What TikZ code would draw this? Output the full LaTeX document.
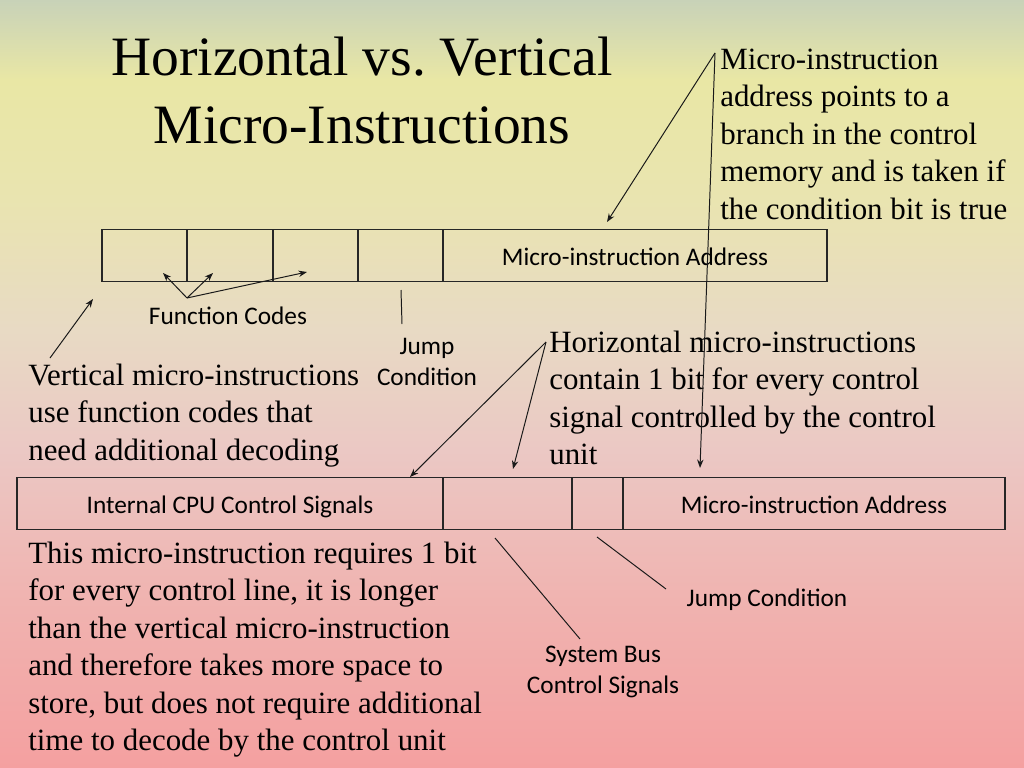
\documentclass[tikz,border=0pt]{standalone}
\usepackage{fontspec}
\setmainfont{Liberation Serif}
\newfontfamily\calibri{Carlito}
\usetikzlibrary{arrows.meta}
\frenchspacing

\definecolor{bgA}{RGB}{200,210,184}
\definecolor{bgB}{RGB}{233,231,165}
\definecolor{bgC}{RGB}{233,228,176}
\definecolor{bgD}{RGB}{232,218,196}
\definecolor{bgE}{RGB}{235,200,196}
\definecolor{bgF}{RGB}{240,179,176}
\definecolor{bgG}{RGB}{244,160,160}
\pgfdeclareverticalshading{slidebg}{100bp}{color(0bp)=(bgG); color(25bp)=(bgG); color(35.9bp)=(bgF); color(45.7bp)=(bgE); color(53.5bp)=(bgD); color(62bp)=(bgC); color(69.8bp)=(bgB); color(75bp)=(bgA); color(100bp)=(bgA)}

\tikzset{
  field/.style={draw=black!85, line width=0.9pt, inner sep=0pt, minimum height=1.3cm, text height=14pt, text depth=0pt, font=\calibri\fontsize{18}{22}\selectfont},
  note/.style={inner sep=0pt, align=left, anchor=north west, font=\fontsize{22}{26.6}\selectfont},
  tag/.style={inner sep=0pt, align=center, font=\calibri\fontsize{18}{22}\selectfont},
  pointer/.style={draw=black!90, line width=0.7pt, -{Stealth[length=6pt,width=4.5pt]}},
  leader/.style={draw=black!90, line width=0.7pt},
}

\begin{document}
\begin{tikzpicture}[x=0.025cm,y=-0.025cm]
\shade[shading=slidebg] (0,0) rectangle (1024,768);
\useasboundingbox (0,0) rectangle (1024,768);
\node[inner sep=0pt, align=center, anchor=north, font=\fontsize{39.5}{48.2}\selectfont] (title) at (362,36.8) {Horizontal vs. Vertical\\Micro-Instructions};
\node[note] (addrNote) at (720,48.8) {Micro-instruction\\address points to a\\branch in the control\\memory and is taken if\\the condition bit is true};
\node[field, minimum width=2.13cm] (fcodeA) at (144.5,255.5) {};
\node[field, minimum width=2.13cm] (fcodeB) at (230,255.5) {};
\node[field, minimum width=2.13cm] (fcodeC) at (315.5,255.5) {};
\node[field, minimum width=2.13cm] (jumpTop) at (400.5,255.5) {};
\node[field, minimum width=9.6cm] (addrTop) at (635,255.5) {Micro-instruction Address};
\node[tag, anchor=base] (fcodeLbl) at (228,324) {Function Codes};
\node[tag, anchor=north] (jumpTopLbl) at (427,337.6) {Jump\\Condition};
\node[note] (vertNote) at (28,363.8) {Vertical micro-instructions\\use function codes that\\need additional decoding};
\node[note] (horizNote) at (549,330.8) {Horizontal micro-instructions\\contain 1 bit for every control\\signal controlled by the control\\unit};
\node[field, minimum width=10.65cm] (cpuSig) at (230,503.5) {Internal CPU Control Signals};
\node[field, minimum width=3.225cm] (busSig) at (507.5,503.5) {};
\node[field, minimum width=1.275cm] (jumpBot) at (597.5,503.5) {};
\node[field, minimum width=9.55cm] (addrBot) at (814,503.5) {Micro-instruction Address};
\node[note] (horizCost) at (28,541.8) {This micro-instruction requires 1 bit\\for every control line, it is longer\\than the vertical micro-instruction\\and therefore takes more space to\\store, but does not require additional\\time to decode by the control unit};
\node[tag, anchor=north] (busLbl) at (603,645.5) {System Bus\\Control Signals};
\node[tag, anchor=base] (jumpBotLbl) at (767,606) {Jump Condition};
\coordinate (fcRoot) at (187,298);
\coordinate (fcTipA) at (163,273);
\coordinate (fcTipB) at (213,273);
\coordinate (fcTipC) at (307,272);
\coordinate (vertRoot) at (50,358);
\coordinate (vertTip) at (93,299);
\coordinate (jumpTickA) at (401,290);
\coordinate (jumpTickB) at (402,324);
\coordinate (addrRoot) at (715,53);
\coordinate (addrTipTop) at (607,222);
\coordinate (addrTipBot) at (700,468);
\coordinate (horizRoot) at (546,342);
\coordinate (horizTipA) at (410,477);
\coordinate (horizTipB) at (513,469);
\coordinate (busA) at (495,538);
\coordinate (busB) at (580,639);
\coordinate (jumpA) at (597,537);
\coordinate (jumpB) at (666,589);
\draw[pointer] (fcRoot) -- (fcTipA);
\draw[pointer] (fcRoot) -- (fcTipB);
\draw[pointer] (fcRoot) -- (fcTipC);
\draw[pointer] (vertRoot) -- (vertTip);
\draw[leader] (jumpTickA) -- (jumpTickB);
\draw[pointer] (addrRoot) -- (addrTipTop);
\draw[pointer] (addrRoot) -- (addrTipBot);
\draw[pointer] (horizRoot) -- (horizTipA);
\draw[pointer] (horizRoot) -- (horizTipB);
\draw[leader] (busA) -- (busB);
\draw[leader] (jumpA) -- (jumpB);
\end{tikzpicture}
\end{document}
